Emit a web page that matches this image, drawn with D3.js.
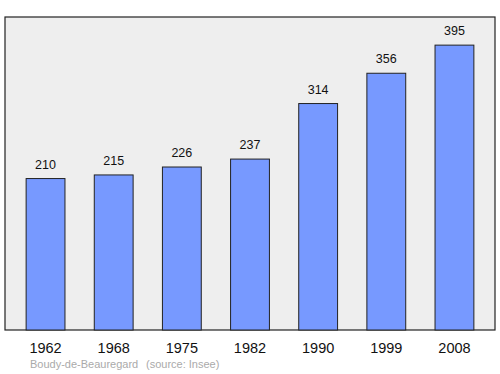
<!DOCTYPE html>
<html>
<head>
<meta charset="utf-8">
<script src="https://cdnjs.cloudflare.com/ajax/libs/d3/7.8.5/d3.min.js"></script>
<style>
  body { margin: 0; background: #fff; }
  svg { display: block; font-family: "Liberation Sans", Arial, sans-serif; }
</style>
</head>
<body>
<div id="chart"></div>
<script>
const years = ["1962", "1968", "1975", "1982", "1990", "1999", "2008"];
const population = [210, 215, 226, 237, 314, 356, 395];
const commune = "Boudy-de-Beauregard";
const source = "(source: Insee)";

const width = 500;
const height = 374;
const frame = { left: 5, top: 17, right: 495, bottom: 330 };

const svg = d3.select("#chart")
    .append("svg")
    .attr("width", width)
    .attr("height", height);

const x = d3.scaleBand()
    .domain(years)
    .range([frame.left, frame.right])
    .paddingInner(0.43)
    .paddingOuter(0.31);

const y = d3.scaleLinear()
    .domain([0, 434])
    .range([frame.bottom, frame.top]);

// fond du graphique
svg.append("rect")
    .attr("x", frame.left)
    .attr("y", frame.top)
    .attr("width", frame.right - frame.left)
    .attr("height", frame.bottom - frame.top)
    .attr("fill", "#eeeeee")
    .attr("stroke", "#222")
    .attr("stroke-width", 1.2);

const data = years.map((yr, i) => ({ year: yr, value: population[i] }));

svg.selectAll(".bar")
    .data(data)
    .enter()
    .append("rect")
    .attr("class", "bar")
    .attr("x", d => x(d.year))
    .attr("y", d => y(d.value))
    .attr("width", x.bandwidth())
    .attr("height", d => y(0) - y(d.value))
    .attr("fill", "#7799ff")
    .attr("stroke", "#222")
    .attr("stroke-width", 1);

svg.selectAll(".value")
    .data(data)
    .enter()
    .append("text")
    .attr("class", "value")
    .attr("x", d => x(d.year) + x.bandwidth() / 2)
    .attr("y", d => y(d.value) - 10)
    .attr("text-anchor", "middle")
    .attr("font-size", 12.5)
    .attr("fill", "#111")
    .text(d => d.value);

svg.selectAll(".year")
    .data(years)
    .enter()
    .append("text")
    .attr("class", "year")
    .attr("x", d => x(d) + x.bandwidth() / 2)
    .attr("y", 353)
    .attr("text-anchor", "middle")
    .attr("font-size", 14.5)
    .attr("fill", "#111")
    .text(d => d);

svg.append("text")
    .attr("x", 30)
    .attr("y", 368)
    .attr("font-size", 11)
    .attr("fill", "#aaaaaa")
    .text(commune);

svg.append("text")
    .attr("x", 146)
    .attr("y", 368)
    .attr("font-size", 11)
    .attr("fill", "#aaaaaa")
    .text(source);
</script>
</body>
</html>
